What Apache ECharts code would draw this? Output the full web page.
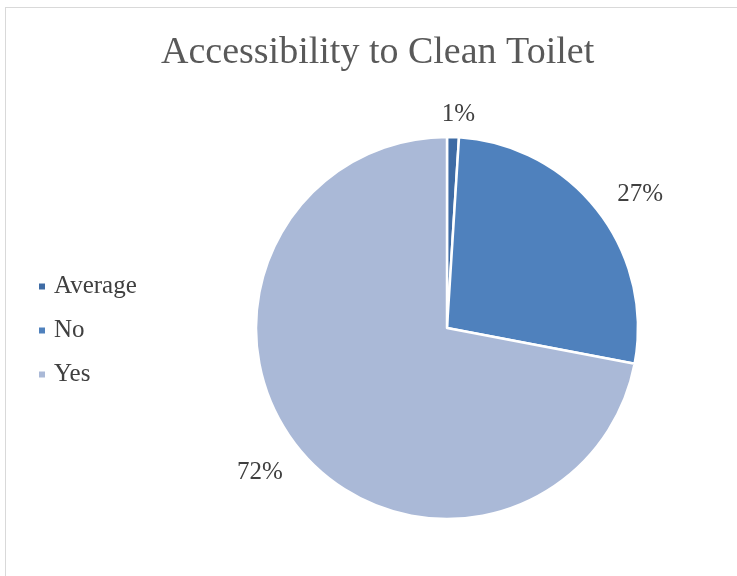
<!DOCTYPE html>
<html>
<head>
<meta charset="utf-8">
<script src="https://cdn.jsdelivr.net/npm/echarts@6/dist/echarts.min.js"></script>
<style>
  html, body { margin: 0; padding: 0; background: #fff; }
  #frame {
    position: absolute; left: 5px; top: 7px; width: 760px; height: 600px;
    border-left: 1px solid #d9d9d9; border-top: 1px solid #d9d9d9;
  }
  #chart { position: absolute; left: 0; top: 0; width: 737px; height: 576px; }
</style>
</head>
<body>
<div id="frame"></div>
<div id="chart"></div>
<script>
const categories = ["Average", "No", "Yes"];
const values = [1, 27, 72];
const colors = ["#3f6ca5", "#4f81bd", "#aab9d7"];

const chart = echarts.init(document.getElementById("chart"));
chart.setOption({
  animation: false,
  textStyle: { fontFamily: "Liberation Serif" },
  title: {
    text: "Accessibility to Clean Toilet",
    left: 156,
    top: 29,
    textStyle: {
      fontFamily: "Liberation Serif",
      fontSize: 38,
      fontWeight: "normal",
      color: "#595959"
    }
  },
  legend: {
    orient: "vertical",
    left: 32,
    top: 269,
    itemGap: 19,
    icon: "rect",
    itemWidth: 8,
    itemHeight: 8,
    data: categories,
    textStyle: {
      fontSize: 25,
      color: "#404040",
      fontFamily: "Liberation Serif",
      padding: [0, 0, 0, 3]
    }
  },
  series: [
    {
      type: "pie",
      center: [447, 328],
      radius: 191,
      startAngle: 90,
      clockwise: true,
      data: categories.map((c, i) => ({
        name: c,
        value: values[i],
        itemStyle: { color: colors[i] }
      })),
      itemStyle: { borderColor: "#fff", borderWidth: 2.5 },
      label: {
        show: true,
        position: "outside",
        formatter: "{d}%",
        fontSize: 25,
        color: "#404040",
        fontFamily: "Liberation Serif"
      },
      labelLine: { show: false, length: 22, length2: 0 },
      labelLayout: function (p) {
        if (p.dataIndex === 0) return { dx: -17, dy: -1 };
        if (p.dataIndex === 1) return { dx: -3, dy: -3 };
        if (p.dataIndex === 2) return { dx: 5, dy: 9 };
        return {};
      }
    }
  ]
});
</script>
</body>
</html>
